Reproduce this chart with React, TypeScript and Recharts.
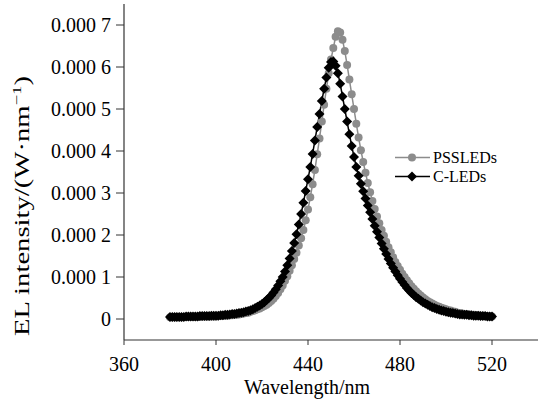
import React from 'react';
import { LineChart, Line, XAxis, YAxis } from 'recharts';

const FONT = '"Liberation Serif", "Times New Roman", Times, serif';

// Wavelength grid (nm): first sample and step
const WL_START = 380;
const WL_STEP = 1;

// EL intensity in units of 1e-4 W/nm, one value per nm from 380 to 520
const pssLeds: number[] = [
  0.04, 0.04, 0.04, 0.04, 0.04, 0.04, 0.05, 0.05, 0.05, 0.05,
  0.05, 0.05, 0.05, 0.05, 0.06, 0.06, 0.06, 0.06, 0.06, 0.06,
  0.06, 0.07, 0.07, 0.07, 0.08, 0.08, 0.09, 0.09, 0.10, 0.10,
  0.11, 0.12, 0.13, 0.14, 0.15, 0.17, 0.19, 0.21, 0.23, 0.25,
  0.28, 0.31, 0.34, 0.38, 0.43, 0.48, 0.55, 0.62, 0.71, 0.80,
  0.91, 1.02, 1.15, 1.28, 1.43, 1.58, 1.75, 1.92, 2.12, 2.35,
  2.61, 2.90, 3.21, 3.55, 3.92, 4.30, 4.70, 5.10, 5.48, 5.85,
  6.18, 6.45, 6.72, 6.85, 6.82, 6.65, 6.38, 6.05, 5.70, 5.35,
  5.00, 4.65, 4.32, 4.02, 3.74, 3.48, 3.24, 3.02, 2.81, 2.62,
  2.44, 2.28, 2.12, 1.98, 1.84, 1.71, 1.59, 1.47, 1.36, 1.26,
  1.17, 1.08, 1.00, 0.92, 0.85, 0.78, 0.72, 0.66, 0.61, 0.56,
  0.51, 0.47, 0.43, 0.40, 0.37, 0.34, 0.31, 0.29, 0.27, 0.25,
  0.23, 0.21, 0.20, 0.18, 0.17, 0.15, 0.14, 0.13, 0.12, 0.12,
  0.11, 0.10, 0.10, 0.09, 0.09, 0.08, 0.08, 0.07, 0.07, 0.06,
  0.06,
];

const cLeds: number[] = [
  0.05, 0.05, 0.05, 0.05, 0.05, 0.05, 0.05, 0.06, 0.06, 0.06,
  0.06, 0.06, 0.06, 0.07, 0.07, 0.07, 0.07, 0.07, 0.08, 0.08,
  0.08, 0.08, 0.09, 0.09, 0.10, 0.10, 0.11, 0.12, 0.12, 0.13,
  0.14, 0.15, 0.16, 0.18, 0.19, 0.21, 0.23, 0.26, 0.29, 0.32,
  0.36, 0.40, 0.45, 0.50, 0.56, 0.63, 0.71, 0.80, 0.90, 1.00,
  1.13, 1.28, 1.44, 1.62, 1.81, 2.02, 2.25, 2.50, 2.77, 3.05,
  3.33, 3.62, 3.93, 4.25, 4.57, 4.88, 5.19, 5.48, 5.75, 5.98,
  6.12, 6.13, 6.03, 5.85, 5.60, 5.30, 5.00, 4.70, 4.40, 4.12,
  3.86, 3.62, 3.41, 3.22, 3.04, 2.87, 2.70, 2.54, 2.38, 2.22,
  2.08, 1.94, 1.80, 1.67, 1.55, 1.43, 1.32, 1.22, 1.13, 1.04,
  0.96, 0.88, 0.81, 0.74, 0.68, 0.62, 0.57, 0.52, 0.48, 0.44,
  0.40, 0.37, 0.34, 0.31, 0.28, 0.26, 0.24, 0.22, 0.20, 0.19,
  0.17, 0.16, 0.15, 0.14, 0.13, 0.12, 0.11, 0.11, 0.10, 0.10,
  0.09, 0.09, 0.08, 0.08, 0.08, 0.07, 0.07, 0.07, 0.06, 0.06,
  0.06,
];

const seriesNames = ['PSSLEDs', 'C-LEDs'];
const xTicks = [360, 400, 440, 480, 520];
const yTicks = [0, 1, 2, 3, 4, 5, 6, 7];

const data = pssLeds.map((v, i) => ({
  wl: WL_START + i * WL_STEP,
  pss: v,
  c: cLeds[i],
}));

const GRAY = '#8c8c8c';
const AXIS = '#333';

const renderCircle = (props: any) => {
  const { cx, cy, index } = props;
  if (cx == null || cy == null) return <g key={`pc-${index}`} />;
  return <circle key={`pc-${index}`} cx={cx} cy={cy} r={4} fill={GRAY} stroke="none" />;
};

const renderDiamond = (props: any) => {
  const { cx, cy, index } = props;
  if (cx == null || cy == null) return <g key={`cd-${index}`} />;
  const s = 5;
  return (
    <path
      key={`cd-${index}`}
      d={`M${cx},${cy - s}L${cx + s},${cy}L${cx},${cy + s}L${cx - s},${cy}Z`}
      fill="#000"
      stroke="none"
    />
  );
};

const yFmt = (v: number) => (v === 0 ? '0' : `0.000 ${v}`);

const YLabel = () => (
  <text
    x={29}
    y={206}
    transform="rotate(-90 29 206)"
    textAnchor="middle"
    fontFamily={FONT}
    fontSize={20}
    fill="#000"
    textLength={260}
    lengthAdjust="spacingAndGlyphs"
  >
    EL intensity/(W·nm
    <tspan dy={-8} fontSize={13}>−1</tspan>
    <tspan dy={8}>)</tspan>
  </text>
);

const XLabel = () => (
  <text x={307} y={394} textAnchor="middle" fontFamily={FONT} fontSize={20} fill="#000">
    Wavelength/nm
  </text>
);

const LegendBox = () => (
  <div
    style={{
      position: 'absolute',
      left: 395,
      top: 148,
      fontFamily: FONT,
      fontSize: 16,
      color: '#000',
      lineHeight: '19px',
    }}
  >
    {seriesNames.map((name, i) => (
      <div key={name} style={{ display: 'flex', alignItems: 'center', height: 19 }}>
        <svg width={38} height={19} style={{ display: 'block' }}>
          <line x1={0} y1={9.5} x2={35} y2={9.5} stroke={i === 0 ? GRAY : '#000'} strokeWidth={1.6} />
          {i === 0 ? (
            <circle cx={17} cy={9.5} r={4} fill={GRAY} />
          ) : (
            <path d="M17,4.5L22,9.5L17,14.5L12,9.5Z" fill="#000" />
          )}
        </svg>
        <span>{name}</span>
      </div>
    ))}
  </div>
);

export default function App() {
  return (
    <div style={{ position: 'absolute', left: 0, top: 0, width: 540, height: 402, background: '#fff' }}>
      <LineChart
        width={540}
        height={402}
        data={data}
        margin={{ top: 4, right: 2, bottom: 0, left: 0 }}
      >
        <XAxis
          dataKey="wl"
          type="number"
          domain={[360, 540]}
          ticks={xTicks}
          allowDataOverflow
          height={62}
          tickSize={5}
          tickMargin={12}
          stroke={AXIS}
          tick={{ fill: '#000', fontSize: 20, fontFamily: FONT }}
          tickLine={{ stroke: AXIS }}
          axisLine={{ stroke: AXIS, strokeWidth: 1.2 }}
          label={{ content: () => <XLabel /> }}
        />
        <YAxis
          type="number"
          domain={[-0.5, 7.5]}
          ticks={yTicks}
          allowDataOverflow
          width={124}
          tickSize={8}
          tickMargin={5}
          tickFormatter={yFmt}
          stroke={AXIS}
          tick={{ fill: '#000', fontSize: 20, fontFamily: FONT }}
          tickLine={{ stroke: AXIS }}
          axisLine={{ stroke: AXIS, strokeWidth: 1.2 }}
          label={{ content: () => <YLabel /> }}
        />
        <Line
          name={seriesNames[0]}
          dataKey="pss"
          stroke={GRAY}
          strokeWidth={1.5}
          dot={renderCircle}
          activeDot={false}
          isAnimationActive={false}
        />
        <Line
          name={seriesNames[1]}
          dataKey="c"
          stroke="#000"
          strokeWidth={1.5}
          dot={renderDiamond}
          activeDot={false}
          isAnimationActive={false}
        />
      </LineChart>
      <LegendBox />
    </div>
  );
}
